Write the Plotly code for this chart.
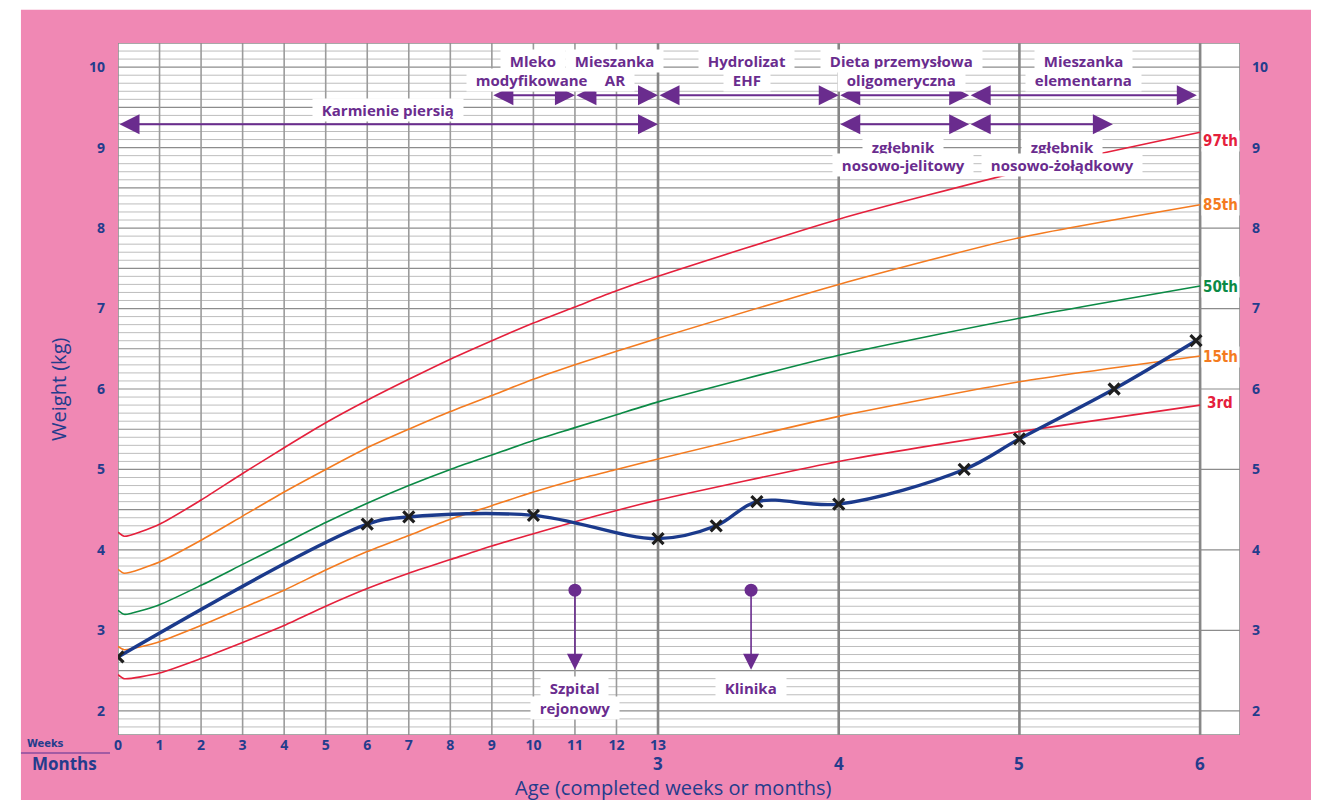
import plotly.graph_objects as go

# ---------------- data ----------------
WEEKS_PER_MONTH = 4.35
def month_x(m):
    return 13 + (m - 3) * WEEKS_PER_MONTH

week_ticks = list(range(0, 14))
month_ticks = [3, 4, 5, 6]

# percentile curve x positions (weeks; last three are months 4,5,6)
pct_x = [0, 0.15, 1, 2, 3, 4, 5, 6, 7, 8, 9, 10, 11, 12, 13, month_x(4), month_x(5), month_x(6)]
p3  = [2.45, 2.40, 2.47, 2.65, 2.85, 3.06, 3.30, 3.52, 3.71, 3.88, 4.05, 4.20, 4.35, 4.49, 4.62, 5.10, 5.47, 5.80]
p15 = [2.80, 2.76, 2.86, 3.06, 3.28, 3.50, 3.75, 3.98, 4.18, 4.38, 4.55, 4.72, 4.87, 5.00, 5.13, 5.66, 6.09, 6.41]
p50 = [3.25, 3.20, 3.32, 3.56, 3.82, 4.08, 4.34, 4.58, 4.80, 5.00, 5.18, 5.36, 5.52, 5.68, 5.84, 6.42, 6.88, 7.28]
p85 = [3.76, 3.71, 3.85, 4.12, 4.42, 4.72, 5.00, 5.27, 5.50, 5.72, 5.92, 6.12, 6.30, 6.47, 6.63, 7.30, 7.88, 8.29]
p97 = [4.22, 4.17, 4.32, 4.62, 4.95, 5.27, 5.58, 5.86, 6.12, 6.37, 6.60, 6.82, 7.02, 7.22, 7.40, 8.11, 8.70, 9.19]
pct_names = ["3rd", "15th", "50th", "85th", "97th"]
pct_values = [p3, p15, p50, p85, p97]
pct_colors = ["#E5203C", "#F47B20", "#0B8A45", "#F47B20", "#E5203C"]
pct_label_y = [5.83, 6.40, 7.27, 8.29, 9.08]

# patient weights
pt_x = [0, 6, 7, 10, 13, 14.4, 15.38, month_x(4), 20.37, month_x(5), 23.98, 25.95]
pt_y = [2.67, 4.32, 4.41, 4.43, 4.14, 4.30, 4.60, 4.57, 5.00, 5.38, 6.00, 6.60]

# feeding phases: start, end, arrow y
phase_arrows = [
    (0, 13, 9.29),                 # Karmienie piersią
    (9, 11, 9.65),                 # Mleko modyfikowane
    (11, 13, 9.65),                # Mieszanka AR
    (13, month_x(4), 9.65),        # Hydrolizat EHF
    (month_x(4), 20.49, 9.65),     # Dieta przemysłowa oligomeryczna
    (20.49, 25.97, 9.65),          # Mieszanka elementarna
    (month_x(4), 20.49, 9.29),     # zgłębnik nosowo-jelitowy
    (20.49, 23.95, 9.29),          # zgłębnik nosowo-żołądkowy
]
# text lines: text, x, y
phase_texts = [
    ("Karmienie piersią", 6.5, 9.466),
    ("Mieszanka", 11.96, 10.075), ("AR", 11.96, 9.84),
    ("Mleko", 9.99, 10.075), ("modyfikowane", 9.95, 9.84),
    ("Hydrolizat", 15.14, 10.075), ("EHF", 15.14, 9.84),
    ("Dieta przemysłowa", 18.87, 10.075), ("oligomeryczna", 18.87, 9.84),
    ("Mieszanka", 23.25, 10.075), ("elementarna", 23.25, 9.84),
    ("zgłębnik", 18.9, 9.006), ("nosowo-jelitowy", 18.9, 8.78),
    ("zgłębnik", 22.72, 9.006), ("nosowo-żołądkowy", 22.72, 8.78),
    ("Szpital", 11.0, 2.286), ("rejonowy", 11.0, 2.037),
    ("Klinika", 15.24, 2.286),
]
# events: x, dot y, arrow tip y
events = [(11.0, 3.5, 2.51), (15.24, 3.5, 2.51)]

# ---------------- style ----------------
PINK = "#F088B4"
PURPLE = "#6A2C8E"
NAVY = "#243C8C"
X_MAX = 27.01
Y_MIN, Y_MAX = 1.7, 10.3
M6 = month_x(6)

fig = go.Figure()

shapes = []
shapes.append(dict(type="rect", xref="paper", yref="paper", x0=-0.0865, x1=1.0677,
                   y0=-0.094, y1=1.048, fillcolor=PINK, line_width=0, layer="below"))
shapes.append(dict(type="rect", xref="paper", yref="paper", x0=0, x1=1, y0=0, y1=1,
                   fillcolor="white", line_width=0, layer="below"))
for i in range(18, 103):
    v = i / 10
    if i % 10 == 0:
        shapes.append(dict(type="line", xref="x", yref="y", x0=0, x1=X_MAX, y0=v, y1=v,
                           line=dict(color="#8C8C8C", width=1.2), layer="below"))
    elif i % 5 == 0:
        shapes.append(dict(type="line", xref="x", yref="y", x0=0, x1=M6, y0=v, y1=v,
                           line=dict(color="#8C8C8C", width=1.2), layer="below"))
    else:
        shapes.append(dict(type="line", xref="x", yref="y", x0=0, x1=M6, y0=v, y1=v,
                           line=dict(color="#BDBDBD", width=1), layer="below"))
for w in week_ticks[1:13]:
    shapes.append(dict(type="line", xref="x", yref="y", x0=w, x1=w, y0=Y_MIN, y1=Y_MAX,
                       line=dict(color="#9B9B9B", width=1.6), layer="below"))
for m in month_ticks:
    xv = month_x(m)
    shapes.append(dict(type="line", xref="x", yref="y", x0=xv, x1=xv, y0=Y_MIN, y1=Y_MAX,
                       line=dict(color="#878787", width=2.6), layer="below"))
shapes.append(dict(type="rect", xref="x", yref="y", x0=0, x1=X_MAX, y0=Y_MIN, y1=Y_MAX,
                   line=dict(color="#8C8C8C", width=1.6), layer="below"))
shapes.append(dict(type="line", xref="paper", yref="paper", x0=-0.0865, x1=-0.0071,
                   y0=-0.026, y1=-0.026, line=dict(color="#8A4C9E", width=1.5)))

for name, vals, col in zip(pct_names, pct_values, pct_colors):
    fig.add_trace(go.Scatter(x=pct_x, y=vals, mode="lines",
                             line=dict(color=col, width=1.6, shape="spline", smoothing=0.6),
                             hoverinfo="skip", showlegend=False))

fig.add_trace(go.Scatter(x=pt_x, y=pt_y, mode="lines",
                         line=dict(color="#1B3A8C", width=3.4, shape="spline", smoothing=1.0),
                         hoverinfo="skip", showlegend=False))
fig.add_trace(go.Scatter(x=pt_x, y=pt_y, mode="markers",
                         marker=dict(symbol="x-thin", size=11, line=dict(color="#1E1E1E", width=3.2)),
                         hoverinfo="skip", showlegend=False))

fig.add_trace(go.Scatter(x=[e[0] for e in events], y=[e[1] for e in events], mode="markers",
                         marker=dict(color=PURPLE, size=13), hoverinfo="skip", showlegend=False))
fig.add_trace(go.Scatter(x=[0], y=[5], yaxis="y2", mode="markers", marker=dict(opacity=0),
                         hoverinfo="skip", showlegend=False))

annotations = []
label_font = dict(family="Open Sans, sans-serif", size=15, color=PURPLE, weight="bold")
NB = "\u00a0\u00a0"

for s, e, y in phase_arrows:
    annotations.append(dict(x=e, y=y, ax=s, ay=y, xref="x", yref="y", axref="x", ayref="y",
                            text="", showarrow=True, arrowside="end+start", arrowhead=2,
                            startarrowhead=2, arrowsize=2.0, startarrowsize=2.0, arrowwidth=2,
                            arrowcolor=PURPLE, standoff=0, startstandoff=0))
for x, y0, y1 in events:
    annotations.append(dict(x=x, y=y1, ax=x, ay=y0, xref="x", yref="y", axref="x", ayref="y",
                            text="", showarrow=True, arrowhead=2, arrowsize=2.0, arrowwidth=1.6,
                            arrowcolor=PURPLE, standoff=0))
for t, x, y in phase_texts:
    annotations.append(dict(x=x, y=y, xref="x", yref="y", text=NB + t + NB, showarrow=False,
                            font=label_font, bgcolor="white", borderpad=1,
                            xanchor="center", yanchor="middle"))

for name, col, ly in zip(pct_names, pct_colors, pct_label_y):
    annotations.append(dict(x=26.53, y=ly, xref="x", yref="y", text=name, showarrow=False,
                            font=dict(family="DejaVu Sans Condensed, Liberation Sans Narrow, sans-serif",
                                      size=15, color=col, weight="bold"),
                            bgcolor="white", borderpad=1, xanchor="center", yanchor="middle"))

for m in month_ticks:
    annotations.append(dict(x=month_x(m), y=-0.0405, xref="x", yref="paper", text=str(m),
                            showarrow=False, xanchor="center", yanchor="middle",
                            font=dict(family="Open Sans, sans-serif", size=17, color=NAVY, weight="bold")))
annotations.append(dict(x=-0.0642, y=-0.0116, xref="paper", yref="paper", text="Weeks", showarrow=False,
                        xanchor="center", yanchor="middle",
                        font=dict(family="DejaVu Sans Condensed, Liberation Sans Narrow, sans-serif",
                                  size=11, color=NAVY, weight="bold")))
annotations.append(dict(x=-0.0481, y=-0.0419, xref="paper", yref="paper", text="Months", showarrow=False,
                        xanchor="center", yanchor="middle",
                        font=dict(family="Open Sans, sans-serif", size=17, color=NAVY, weight="bold")))
annotations.append(dict(x=-0.0535, y=0.5, xref="paper", yref="paper", text="Weight (kg)", showarrow=False,
                        textangle=-90, xanchor="center", yanchor="middle",
                        font=dict(family="Open Sans, sans-serif", size=20, color=NAVY)))
annotations.append(dict(x=(673 - 118) / 1122, y=(735 - 787) / 692, xref="paper", yref="paper",
                        text="Age (completed weeks or months)", showarrow=False,
                        xanchor="center", yanchor="middle",
                        font=dict(family="Open Sans, sans-serif", size=20, color=NAVY)))

tick_font = dict(family="Open Sans, sans-serif", size=14, color=NAVY, weight="bold")
fig.update_layout(
    width=1311, height=792, autosize=False,
    margin=dict(l=110, r=79, t=35, b=65),
    paper_bgcolor="white", plot_bgcolor="white",
    shapes=shapes, annotations=annotations,
    xaxis=dict(range=[0, X_MAX], showgrid=False, zeroline=False, showline=False,
               tickvals=week_ticks, ticktext=[str(w) for w in week_ticks], tickfont=tick_font,
               ticks="", fixedrange=True),
    yaxis=dict(range=[Y_MIN, Y_MAX], showgrid=False, zeroline=False, showline=False,
               tickvals=list(range(2, 11)), tickfont=tick_font, ticks="", ticklabelstandoff=12,
               fixedrange=True),
    yaxis2=dict(range=[Y_MIN, Y_MAX], overlaying="y", side="right", showgrid=False, zeroline=False,
                showline=False, tickvals=list(range(2, 11)), tickfont=tick_font, ticks="",
                ticklabelstandoff=11, fixedrange=True),
    showlegend=False,
)

fig.write_html("out.html")
